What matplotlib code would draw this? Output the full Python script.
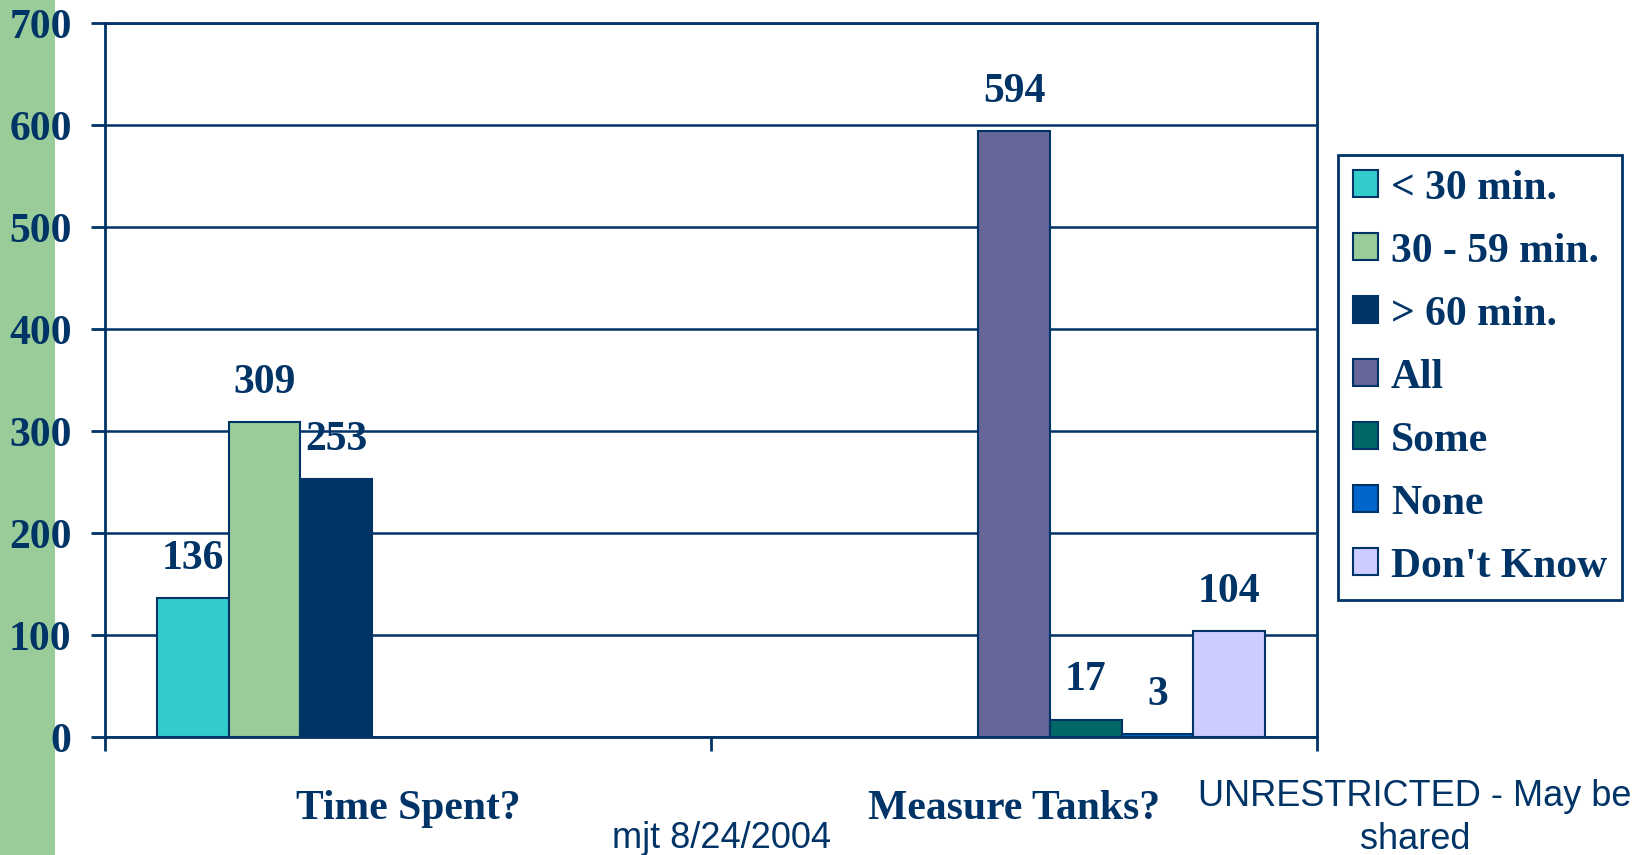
import matplotlib.pyplot as plt
from matplotlib.patches import Rectangle

# Chart data
categories = ["Time Spent?", "Measure Tanks?"]
series = ["< 30 min.", "30 - 59 min.", "> 60 min.", "All", "Some", "None", "Don't Know"]
# one value per category; None where the series has no bar
values = [
    [136, None],
    [309, None],
    [253, None],
    [None, 594],
    [None, 17],
    [None, 3],
    [None, 104],
]
colors = ["#33CCCC", "#99CC99", "#003366", "#666699", "#006666", "#0066CC", "#CCCCFF"]
yticks = [0, 100, 200, 300, 400, 500, 600, 700]

navy = "#003366"
serif = "Liberation Serif"
big = 30

fig = plt.figure(figsize=(16.48, 8.55), dpi=100)
# green band on the left edge
fig.patches.append(Rectangle((0, 0), 55 / 1648, 1, transform=fig.transFigure,
                             facecolor="#99CC99", edgecolor="none", zorder=-5))

ax = fig.add_axes([105 / 1648, 1 - 737 / 855, (1317 - 105) / 1648, (737 - 23) / 855])

n = len(series)
w = 1 / 8.45
for i, name in enumerate(series):
    first = True
    for c, v in enumerate(values[i]):
        if v is None:
            continue
        x = c + (i - (n - 1) / 2) * w
        ax.bar(x, v, width=w, color=colors[i], edgecolor=navy, linewidth=1.5, zorder=3,
               label=name if first else None)
        first = False
        ax.annotate(str(v), (x, v), xytext=(0, 21), textcoords="offset points",
                    ha="center", va="baseline", fontsize=big, fontweight="bold",
                    family=serif, color=navy, zorder=4)

ax.set_xlim(-0.5, len(categories) - 0.5)
ax.set_ylim(0, 700)
ax.set_yticks(yticks)
ax.set_yticklabels([str(t) for t in yticks], fontsize=big, fontweight="bold",
                   family=serif, color=navy)
ax.tick_params(axis="y", length=10, width=2, color=navy, pad=14)
ax.set_xticks([-0.5, 0.5, 1.5])
ax.set_xticklabels([])
ax.tick_params(axis="x", length=10, width=2, color=navy, direction="out")
ax.grid(axis="y", color=navy, linewidth=1.8, zorder=1)
ax.set_axisbelow(True)
for s in ["left", "right", "top", "bottom"]:
    ax.spines[s].set_color(navy)
    ax.spines[s].set_linewidth(2)

# category labels
for c, cat in enumerate(categories):
    ax.text(c, -0.115, cat, transform=ax.get_xaxis_transform(), ha="center", va="baseline",
            fontsize=big, fontweight="bold", family=serif, color=navy)

# footer texts
fig.text(722 / 1648, 1 - 848 / 855, "mjt 8/24/2004", ha="center", va="baseline",
         fontsize=26, family="Liberation Sans", color=navy)
fig.text(1415 / 1648, 1 - 806 / 855, "UNRESTRICTED - May be", ha="center", va="baseline",
         fontsize=26, family="Liberation Sans", color=navy)
fig.text(1415 / 1648, 1 - 849 / 855, "shared", ha="center", va="baseline",
         fontsize=26, family="Liberation Sans", color=navy)

leg = fig.legend(loc="upper left", bbox_to_anchor=(1338 / 1648, 1 - 155 / 855),
                 prop={"family": serif, "weight": "bold", "size": big},
                 frameon=True, fancybox=False, edgecolor=navy, framealpha=1,
                 handlelength=0.62, handleheight=0.62, handletextpad=0.3,
                 labelspacing=0.6, borderpad=0.35, borderaxespad=0)
leg.get_frame().set_linewidth(2)
for t in leg.get_texts():
    t.set_color(navy)

fig.savefig("out.png", dpi=100)
